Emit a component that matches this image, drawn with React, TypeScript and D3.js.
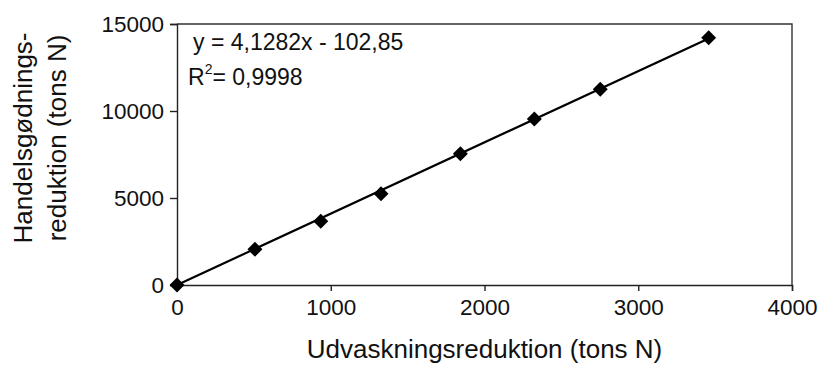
import React, { useEffect, useRef } from "react";
import * as d3 from "d3";

// measured points (tons N)
const udvaskning = [0, 507, 935, 1327, 1843, 2324, 2753, 3458];
const handelsgodning = [0, 2052, 3660, 5247, 7546, 9540, 11247, 14213];

const xTicks = [0, 1000, 2000, 3000, 4000];
const yTicks = [0, 5000, 10000, 15000];

// trend line as printed on the chart
const slope = 4.1282;
const intercept = -102.85;
const equationText = "y = 4,1282x - 102,85";
const r2Value = "= 0,9998";

const xTitle = "Udvaskningsreduktion (tons N)";
const yTitleLines = ["Handelsgødnings-", "reduktion (tons N)"];

const W = 822;
const H = 365;
const FONT = "'Liberation Sans', Arial, Helvetica, sans-serif";

export default function App() {
  const ref = useRef<SVGSVGElement | null>(null);

  useEffect(() => {
    const svg = d3.select(ref.current);
    svg.selectAll("*").remove();

    const margin = { top: 24, right: 30, bottom: 80, left: 177 };
    const x = d3.scaleLinear().domain([0, 4000]).range([margin.left, W - margin.right]);
    const y = d3.scaleLinear().domain([0, 15000]).range([H - margin.bottom, margin.top]);

    const points = udvaskning.map((v, i) => ({ x: v, y: handelsgodning[i] }));

    // plot frame (top + right)
    svg.append("path")
      .attr("d", `M${x(0)},${y(15000)}H${x(4000)}V${y(0)}`)
      .attr("fill", "none")
      .attr("stroke", "#333")
      .attr("stroke-width", 1.4);

    const xAxis = svg.append("g")
      .attr("transform", `translate(0,${y(0)})`)
      .call(d3.axisBottom(x).tickValues(xTicks).tickSize(6).tickPadding(8).tickFormat(d3.format("d")));

    const yAxis = svg.append("g")
      .attr("transform", `translate(${x(0)},0)`)
      .call(d3.axisLeft(y).tickValues(yTicks).tickSize(7).tickPadding(6).tickFormat(d3.format("d")));

    [xAxis, yAxis].forEach(ax => {
      ax.select(".domain").attr("stroke", "#222").attr("stroke-width", 1.4);
      ax.selectAll(".tick line").attr("stroke", "#222").attr("stroke-width", 1.4);
      ax.selectAll(".tick text")
        .attr("fill", "#111")
        .style("font-family", FONT)
        .style("font-size", "22.5px");
    });
    xAxis.selectAll(".tick text").attr("dy", "0.72em");

    // trend line
    const xMax = d3.max(udvaskning) as number;
    svg.append("line")
      .attr("x1", x(0))
      .attr("y1", y(Math.max(0, intercept)))
      .attr("x2", x(xMax))
      .attr("y2", y(slope * xMax + intercept))
      .attr("stroke", "#000")
      .attr("stroke-width", 2.2);

    // diamonds
    const diamond = d3.symbol().type(d3.symbolSquare).size(112);
    svg.append("g")
      .selectAll("path")
      .data(points)
      .enter().append("path")
      .attr("d", diamond)
      .attr("transform", d => `translate(${x(d.x)},${y(d.y)}) rotate(45)`)
      .attr("fill", "#000");

    // equation
    svg.append("text")
      .attr("x", 193)
      .attr("y", 50)
      .style("font-family", FONT)
      .style("font-size", "23px")
      .attr("fill", "#111")
      .text(equationText);

    const r2 = svg.append("text")
      .attr("x", 188)
      .attr("y", 85)
      .style("font-family", FONT)
      .style("font-size", "23px")
      .attr("fill", "#111");
    r2.append("tspan").text("R");
    r2.append("tspan").attr("dy", -11).style("font-size", "14px").text("2");
    r2.append("tspan").attr("dy", 11).text(r2Value);

    // axis titles
    svg.append("text")
      .attr("x", (x(0) + x(4000)) / 2)
      .attr("y", 358)
      .attr("text-anchor", "middle")
      .style("font-family", FONT)
      .style("font-size", "26px")
      .attr("fill", "#111")
      .text(xTitle);

    const yt = svg.append("text")
      .attr("transform", `translate(0,138) rotate(-90)`)
      .attr("text-anchor", "middle")
      .style("font-family", FONT)
      .style("font-size", "26px")
      .attr("fill", "#111");
    yTitleLines.forEach((line, i) => {
      yt.append("tspan").attr("x", 0).attr("y", 32 + i * 34).text(line);
    });
  }, []);

  return (
    <svg
      ref={ref}
      width={W}
      height={H}
      style={{ position: "absolute", left: 0, top: 0, background: "#fff" }}
    />
  );
}
